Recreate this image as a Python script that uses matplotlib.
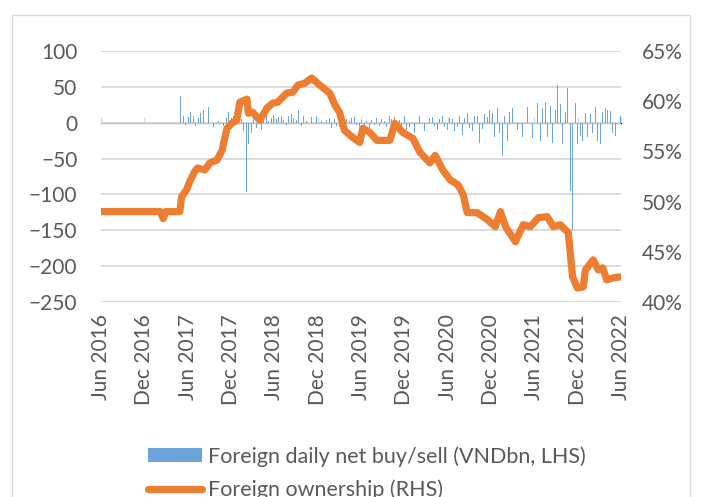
import numpy as np
import pandas as pd
import matplotlib
matplotlib.use("Agg")
import matplotlib.pyplot as plt
import matplotlib.dates as mdates
from matplotlib.patches import Rectangle
from matplotlib.ticker import FuncFormatter

# Foreign ownership (RHS, %)
own_dates = ["2016-06-01", "2017-02-06", "2017-02-18", "2017-03-01", "2017-04-29",
             "2017-05-07", "2017-05-28", "2017-06-10", "2017-07-01", "2017-07-13",
             "2017-08-12", "2017-09-03", "2017-10-03", "2017-10-24", "2017-11-14",
             "2017-12-04", "2017-12-25", "2018-01-07", "2018-02-06", "2018-02-12",
             "2018-03-02", "2018-04-01", "2018-05-01", "2018-05-25", "2018-06-15",
             "2018-07-24", "2018-08-18", "2018-09-09", "2018-10-08", "2018-11-06",
             "2018-12-10", "2019-01-21", "2019-02-12", "2019-03-03", "2019-03-24",
             "2019-04-27", "2019-05-27", "2019-06-09", "2019-07-08", "2019-08-07",
             "2019-10-01", "2019-10-22", "2019-11-24", "2020-01-06", "2020-02-05",
             "2020-03-18", "2020-04-09", "2020-05-12", "2020-06-12", "2020-07-15",
             "2020-08-06", "2020-08-22", "2020-10-03", "2020-11-15", "2020-12-18",
             "2021-01-09", "2021-01-31", "2021-03-13", "2021-04-15", "2021-05-15",
             "2021-06-18", "2021-07-25", "2021-08-20", "2021-09-18", "2021-10-22",
             "2021-11-09", "2021-11-29", "2021-12-24", "2022-01-02", "2022-02-04",
             "2022-02-25", "2022-03-16", "2022-04-02", "2022-04-28", "2022-05-28"]
own_pct = [49.0, 49.0, 48.3, 49.0, 49.0,
           50.5, 51.2, 52.0, 53.0, 53.35,
           53.15, 53.85, 54.15, 55.1, 57.3,
           57.8, 58.1, 59.9, 60.2, 58.8,
           58.9, 58.1, 59.3, 59.8, 59.9,
           60.8, 60.9, 61.6, 61.8, 62.3,
           61.6, 60.8, 59.6, 58.9, 57.1,
           56.4, 55.9, 57.3, 56.9, 56.1,
           56.1, 57.8, 56.9, 56.3, 54.9,
           53.85, 54.6, 53.1, 52.15, 51.65,
           50.65, 48.9, 48.9, 48.2, 47.5,
           49.0, 47.5, 46.0, 47.7, 47.5,
           48.4, 48.5, 47.5, 47.7, 46.9,
           42.5, 41.4, 41.5, 43.2, 44.2,
           43.2, 43.4, 42.2, 42.4, 42.5]

# Foreign net buy/sell (LHS, VNDbn), weekly readings from May 2017
flow_start = "2017-05-01"
flow_vals = [37, 6, 10, -3, 12, 8, 15, 5, 9, -4,
             11, 7, 13, 4, 18, 6, 9, 22, 5, 10,
             -6, 8, 12, 3, 14, 9, -5, 11, 7, 15,
             13, 6, 10, 4, 12, 8, 48, 5, -12, -20,
             -96, -30, 10, -15, 6, -24, -8, 12, 4, -10,
             7, -5, 9, 3, -8, 6, 11, -4, 5, 8,
             -6, 10, 4, 7, -3, 9, 5, 12, 6, 8,
             4, 18, 7, -5, 10, 6, 3, 14, 5, 8,
             -4, 6, 9, -7, 5, 3, -6, 7, 4, -5,
             6, -8, 3, 5, -4, 7, -6, 4, 2, -5,
             5, -7, 3, 6, -4, 8, -3, 5, -6, 4,
             7, -5, 3, 6, -8, 4, 5, -3, 6, 8,
             -4, 5, 9, 3, -6, 7, 10, 5, 36, 8,
             -5, 6, 4, -7, 3, 9, -10, 5, -6, 8,
             -8, -14, 5, -6, 10, -9, 4, -12, 6, -5,
             7, -8, 8, -4, 6, -10, 5, -7, 9, -6,
             4, -10, 6, -8, 5, -12, 7, -6, 9, -9,
             -17, 6, -10, 14, -8, 7, -12, 9, -6, 10,
             -28, 15, -9, 12, -15, 8, 18, -10, 14, -20,
             12, 21, -14, 18, -47, 10, -18, -26, 15, -12,
             20, -15, 25, -10, 16, 43, -20, 18, -30, 22,
             -68, 15, -22, 30, -18, 28, 12, -25, 20, -35,
             29, -20, -49, 24, -28, 32, 18, 53, -15, 26,
             -30, 22, 15, 49, -22, -95, -150, -40, 28, -30,
             20, -18, -26, 25, 14, -20, 35, 12, -15, -37,
             22, -25, 18, -30, 15, -51, 20, 18, -22, 16,
             -15, 12, -18, 20, -23, 10]

tick_dates = pd.date_range("2016-06-01", "2022-06-01", freq="6MS")

blue = "#5B9BD5"
orange = "#ED7D31"
grid_c = "#D9D9D9"
text_c = "#595959"

plt.rcParams["font.family"] = ["Lato", "DejaVu Sans"]

fig = plt.figure(figsize=(7.02, 4.97), dpi=100)
ax = fig.add_axes([101 / 702, 1 - 302 / 497, 520 / 702, 251 / 497])

flow_dates = pd.date_range(flow_start, periods=len(flow_vals), freq="7D")
ax.bar(flow_dates, flow_vals, width=2.5, color=blue, linewidth=0, alpha=0.9, zorder=2,
       label="Foreign daily net buy/sell (VNDbn, LHS)")

ax.set_ylim(-250, 100)
ax.set_yticks(range(-250, 101, 50))
ax.set_xlim(pd.Timestamp("2016-06-01"), pd.Timestamp("2022-06-01"))
ax.set_xticks(tick_dates)
ax.xaxis.set_major_formatter(mdates.DateFormatter("%b %Y"))
ax.tick_params(axis="x", length=0, pad=9, labelrotation=90, labelsize=15, labelcolor=text_c)
ax.tick_params(axis="y", length=0, pad=17, labelsize=15, labelcolor=text_c)
ax.yaxis.grid(True, color=grid_c, linewidth=1.3, zorder=0)
ax.set_axisbelow(True)
for s in ax.spines.values():
    s.set_visible(False)

# category axis crossing at zero, with outward ticks
zero_pos = (0 - ax.get_ylim()[0]) / (ax.get_ylim()[1] - ax.get_ylim()[0])
sec = ax.secondary_xaxis(zero_pos)
sec.set_xticks(tick_dates)
sec.set_xticklabels([])
sec.tick_params(axis="x", direction="out", length=4, color=grid_c, width=1)
sec.spines["bottom"].set_color(grid_c)
sec.spines["bottom"].set_linewidth(1.3)

ax2 = ax.twinx()
ax2.plot(pd.to_datetime(own_dates), own_pct, color=orange, linewidth=5.2,
         solid_joinstyle="round", solid_capstyle="round", label="Foreign ownership (RHS)")
ax2.set_ylim(40, 65)
ax2.set_yticks(range(40, 66, 5))
ax2.yaxis.set_major_formatter(FuncFormatter(lambda v, p: f"{v:.0f}%"))
ax2.tick_params(axis="y", length=0, pad=15, labelsize=15, labelcolor=text_c)
for s in ax2.spines.values():
    s.set_visible(False)

h1, l1 = ax.get_legend_handles_labels()
h2, l2 = ax2.get_legend_handles_labels()
fig.legend(h1 + h2, l1 + l2, loc="upper left", bbox_to_anchor=(148 / 702, 1 - 446 / 497),
           frameon=False, fontsize=15.5, labelcolor=text_c, handlelength=2.5,
           handleheight=0.66, handletextpad=0.28, labelspacing=0.6, borderpad=0,
           borderaxespad=0)

fig.patches.append(Rectangle((12 / 702, -0.2), 678 / 702, 1.2 - 15 / 497,
                             transform=fig.transFigure, fill=False,
                             edgecolor=grid_c, linewidth=1))

fig.savefig("out.png", dpi=100)
